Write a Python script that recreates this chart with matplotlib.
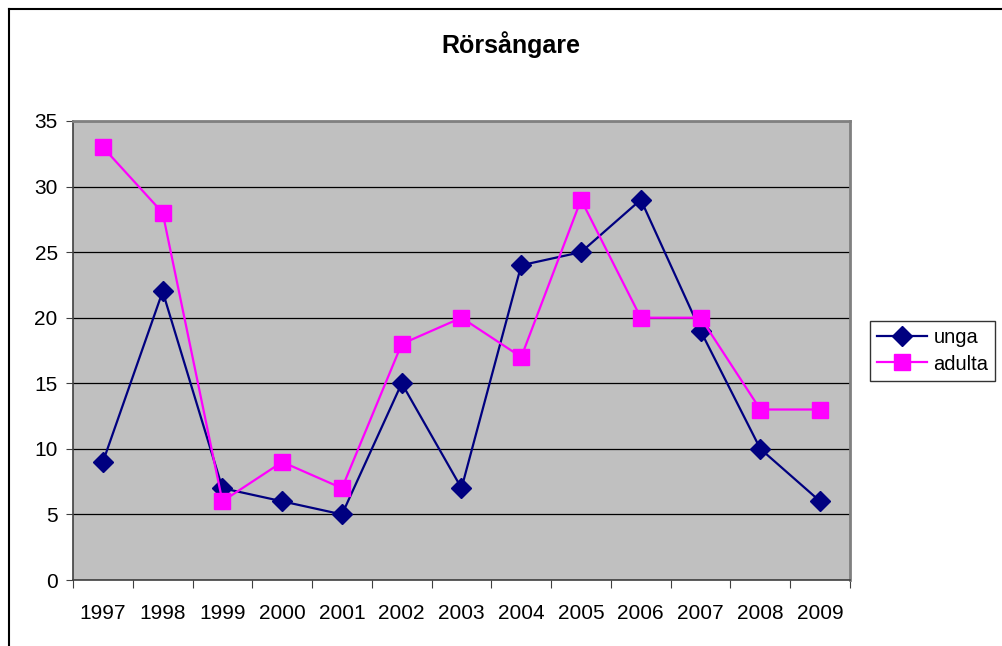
import matplotlib
matplotlib.use("Agg")
import matplotlib.pyplot as plt
from matplotlib.lines import Line2D

plt.rcParams["font.family"] = ["Liberation Sans", "DejaVu Sans"]

years = ["1997", "1998", "1999", "2000", "2001", "2002", "2003",
         "2004", "2005", "2006", "2007", "2008", "2009"]
unga = [9, 22, 7, 6, 5, 15, 7, 24, 25, 29, 19, 10, 6]
adulta = [33, 28, 6, 9, 7, 18, 20, 17, 29, 20, 20, 13, 13]

W, H = 1003, 646
fig = plt.figure(figsize=(W / 100, H / 100), dpi=100)

# outer chart frame (Excel chart area)
fig.add_artist(Line2D([9 / W, 1], [1 - 9 / H, 1 - 9 / H], color="black", lw=1.5))
fig.add_artist(Line2D([9 / W, 9 / W], [0, 1 - 9 / H], color="black", lw=1.5))

ax = fig.add_axes([73 / W, 66 / H, 777 / W, 459 / H])
ax.set_facecolor("#c0c0c0")

x = list(range(len(years)))
ax.plot(x, unga, "-D", color="#000080", lw=1.6, markersize=10, label="unga", zorder=3)
ax.plot(x, adulta, "-s", color="#ff00ff", lw=1.6, markersize=11, label="adulta", zorder=3)

ax.set_xlim(-0.5, len(years) - 0.5)
ax.set_ylim(0, 35)
ax.set_yticks(range(0, 36, 5))
ax.yaxis.grid(True, color="black", lw=0.9)
ax.set_axisbelow(True)

ax.set_xticks([i + 0.5 for i in range(-1, len(years))], minor=False)
ax.set_xticklabels([])
ax.set_xticks(x, minor=True)
ax.set_xticklabels(years, minor=True)
ax.tick_params(axis="x", which="major", length=6, direction="out", color="#404040")
ax.tick_params(axis="x", which="minor", length=0, pad=17, labelsize=15)
ax.tick_params(axis="y", length=5, direction="out", color="#404040", labelsize=15, pad=6)

for side in ["left", "bottom"]:
    ax.spines[side].set_color("#404040")
    ax.spines[side].set_linewidth(1.2)
for side in ["top", "right"]:
    ax.spines[side].set_color("#808080")
    ax.spines[side].set_linewidth(2.0)

fig.text(511 / W, 1 - 45 / H, "Rörsångare", ha="center", va="center",
         fontsize=18, fontweight="bold")

leg = fig.legend(loc="center left", bbox_to_anchor=(870 / W, 1 - 351 / H),
                 frameon=True, fontsize=14.5, handlelength=2.5,
                 borderpad=0.35, labelspacing=0.35, handletextpad=0.3,
                 borderaxespad=0)
leg.get_frame().set_edgecolor("black")
leg.get_frame().set_linewidth(1.0)
leg.get_frame().set_boxstyle("square", pad=0)

fig.savefig("out.png", dpi=100)
